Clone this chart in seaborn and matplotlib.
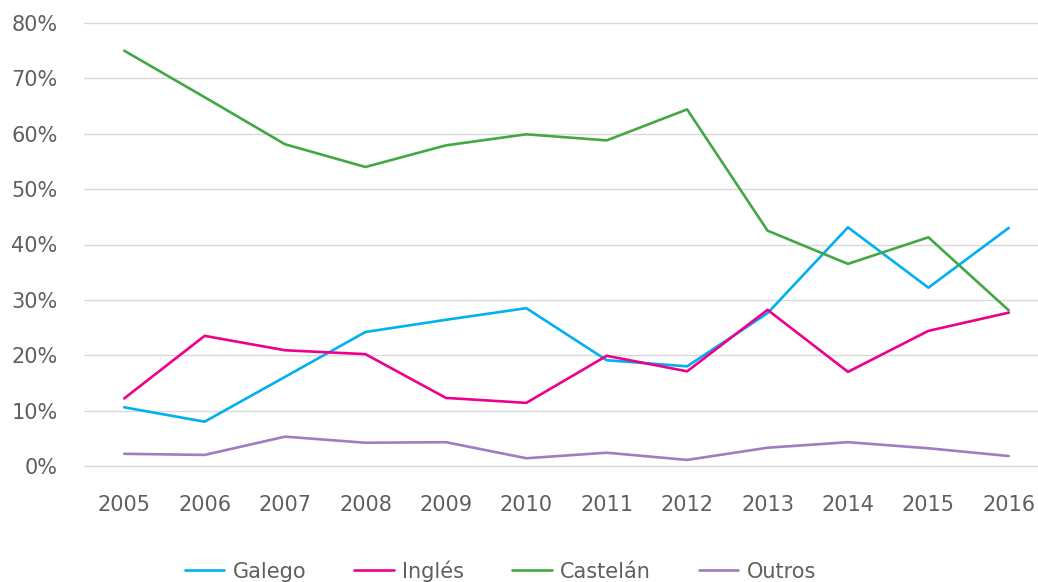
import pandas as pd
import matplotlib.pyplot as plt
import seaborn as sns

# -----------------------------
# Data
# -----------------------------
years = ["2005", "2006", "2007", "2008", "2009", "2010",
         "2011", "2012", "2013", "2014", "2015", "2016"]
galego = [10.6, 8.0, 16.1, 24.2, 26.4, 28.5, 19.1, 18.0, 27.6, 43.1, 32.2, 43.0]
ingles = [12.2, 23.5, 20.9, 20.2, 12.3, 11.4, 19.9, 17.1, 28.2, 17.0, 24.4, 27.7]
castelan = [75.0, 66.6, 58.1, 54.0, 57.9, 59.9, 58.8, 64.4, 42.5, 36.5, 41.3, 28.1]
outros = [2.2, 2.0, 5.3, 4.2, 4.3, 1.4, 2.4, 1.1, 3.3, 4.3, 3.2, 1.8]

series_names = ["Galego", "Inglés", "Castelán", "Outros"]
colors = ["#00B0F0", "#EC008C", "#43A843", "#A07CC0"]

df = pd.DataFrame({
    "year": years * 4,
    "lang": sum([[n] * len(years) for n in series_names], []),
    "value": [v / 100 for v in galego + ingles + castelan + outros],
})

# -----------------------------
# Plot
# -----------------------------
sns.set_theme(style="white")
plt.rcParams["font.family"] = ["DejaVu Sans"]

TEXT_COL = "#5f5f5f"

fig = plt.figure(figsize=(10.38, 5.82), dpi=100)
ax = fig.add_axes([84 / 1038, 116 / 582, 965 / 1038, 443 / 582])

sns.lineplot(data=df, x="year", y="value", hue="lang", hue_order=series_names,
             palette=colors, linewidth=1.9, sort=False, ax=ax)

ax.set_xlim(-0.5, len(years) - 0.5)
ax.set_ylim(0, 0.8)
ax.set_yticks([i / 10 for i in range(9)])
ax.set_yticklabels([f"{i * 10}%" for i in range(9)])
ax.yaxis.grid(True, color="#D9D9D9", linewidth=1.0)
ax.set_axisbelow(True)
for gl in ax.yaxis.get_gridlines():
    gl.set_clip_on(False)
for s in ax.spines.values():
    s.set_visible(False)
ax.tick_params(axis="both", length=0, labelsize=15, labelcolor=TEXT_COL)
ax.tick_params(axis="y", pad=19)
ax.tick_params(axis="x", pad=21)
ax.set_xlabel("")
ax.set_ylabel("")

sns.move_legend(ax, "center", bbox_to_anchor=(0.4315, -0.237), ncol=4,
                frameon=False, fontsize=15, handlelength=1.9, columnspacing=2.3,
                handletextpad=0.4, title=None)
for t in ax.get_legend().get_texts():
    t.set_color(TEXT_COL)

fig.savefig("out.png", dpi=100)
